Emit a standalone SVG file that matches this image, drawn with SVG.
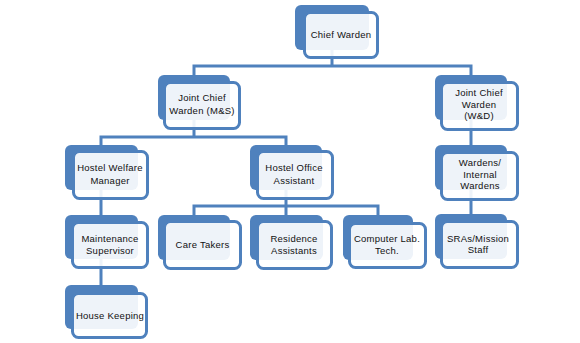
<svg xmlns="http://www.w3.org/2000/svg" width="580" height="343" viewBox="0 0 580 343">
<style>
.bk{fill:#4f81bd}
.fr{fill:#ffffff;fill-opacity:0.9;stroke:#4f81bd;stroke-width:3}
.cn{fill:none;stroke:#4f81bd;stroke-width:3}
text{font-family:"Liberation Sans",Arial,sans-serif;font-size:9.5px;letter-spacing:0.25px;fill:#111;text-anchor:middle}
</style>
<rect width="580" height="343" fill="#fff"/>
<g id="connectors">
<path class="cn" d="M332 50 V66 M194 75 V66 H471 V75"/>
<path class="cn" d="M194 120 V137 M101 145 V137 H286 V145"/>
<path class="cn" d="M471 120 V145 M471 190 V214"/>
<path class="cn" d="M101 190 V215 M101 259 V285"/>
<path class="cn" d="M286 190 V215 M194 215 V206 H378 V215"/>
</g>
<g id="chief">
<rect class="bk" x="295" y="5" width="74" height="45" rx="6"/>
<rect class="fr" x="304.5" y="12.5" width="73" height="45" rx="6"/>
<text x="341" y="38">Chief Warden</text>
</g>
<g id="jcw-ms">
<rect class="bk" x="158" y="75" width="72" height="45" rx="6"/>
<rect class="fr" x="164.5" y="82.5" width="75" height="46" rx="6"/>
<text x="202" y="101">Joint Chief</text>
<text x="202" y="114">Warden (M&amp;S)</text>
</g>
<g id="jcw-wd">
<rect class="bk" x="435" y="75" width="72" height="45" rx="6"/>
<rect class="fr" x="441.5" y="82.5" width="76" height="47" rx="6"/>
<text x="479" y="96">Joint Chief</text>
<text x="479" y="107.5">Warden</text>
<text x="479" y="119">(W&amp;D)</text>
</g>
<g id="welfare">
<rect class="bk" x="65" y="145" width="73" height="45" rx="6"/>
<rect class="fr" x="73.5" y="151.5" width="74" height="47" rx="6"/>
<text x="110" y="171">Hostel Welfare</text>
<text x="110" y="184">Manager</text>
</g>
<g id="office">
<rect class="bk" x="250" y="145" width="72" height="45" rx="6"/>
<rect class="fr" x="257.5" y="151.5" width="75" height="47" rx="6"/>
<text x="294" y="171">Hostel Office</text>
<text x="294" y="184">Assistant</text>
</g>
<g id="wardens">
<rect class="bk" x="435" y="145" width="72" height="45" rx="6"/>
<rect class="fr" x="441.5" y="152.5" width="76" height="47" rx="6"/>
<text x="480" y="166">Wardens/</text>
<text x="480" y="177.5">Internal</text>
<text x="480" y="189">Wardens</text>
</g>
<g id="maintenance">
<rect class="bk" x="65" y="215" width="73" height="44" rx="6"/>
<rect class="fr" x="72.5" y="222.5" width="75" height="45" rx="6"/>
<text x="110" y="242">Maintenance</text>
<text x="110" y="253.5">Supervisor</text>
</g>
<g id="caretakers">
<rect class="bk" x="158" y="215" width="72" height="45" rx="6"/>
<rect class="fr" x="164.5" y="221.5" width="76" height="47" rx="6"/>
<text x="202.5" y="247.5">Care Takers</text>
</g>
<g id="residence">
<rect class="bk" x="250" y="215" width="73" height="45" rx="6"/>
<rect class="fr" x="257.5" y="221.5" width="74" height="47" rx="6"/>
<text x="294" y="242">Residence</text>
<text x="294" y="254">Assistants</text>
</g>
<g id="computer">
<rect class="bk" x="343" y="215" width="70" height="45" rx="6"/>
<rect class="fr" x="349.5" y="223.5" width="76" height="44" rx="6"/>
<text x="387" y="242">Computer Lab.</text>
<text x="387" y="254">Tech.</text>
</g>
<g id="sras">
<rect class="bk" x="435" y="214" width="72" height="45" rx="6"/>
<rect class="fr" x="441.5" y="221.5" width="76" height="46" rx="6"/>
<text x="478" y="242">SRAs/Mission</text>
<text x="478" y="252.5">Staff</text>
</g>
<g id="housekeeping">
<rect class="bk" x="65" y="285" width="73" height="44" rx="6"/>
<rect class="fr" x="72.5" y="293.5" width="74" height="44" rx="6"/>
<text x="110" y="318.5">House Keeping</text>
</g>
</svg>
